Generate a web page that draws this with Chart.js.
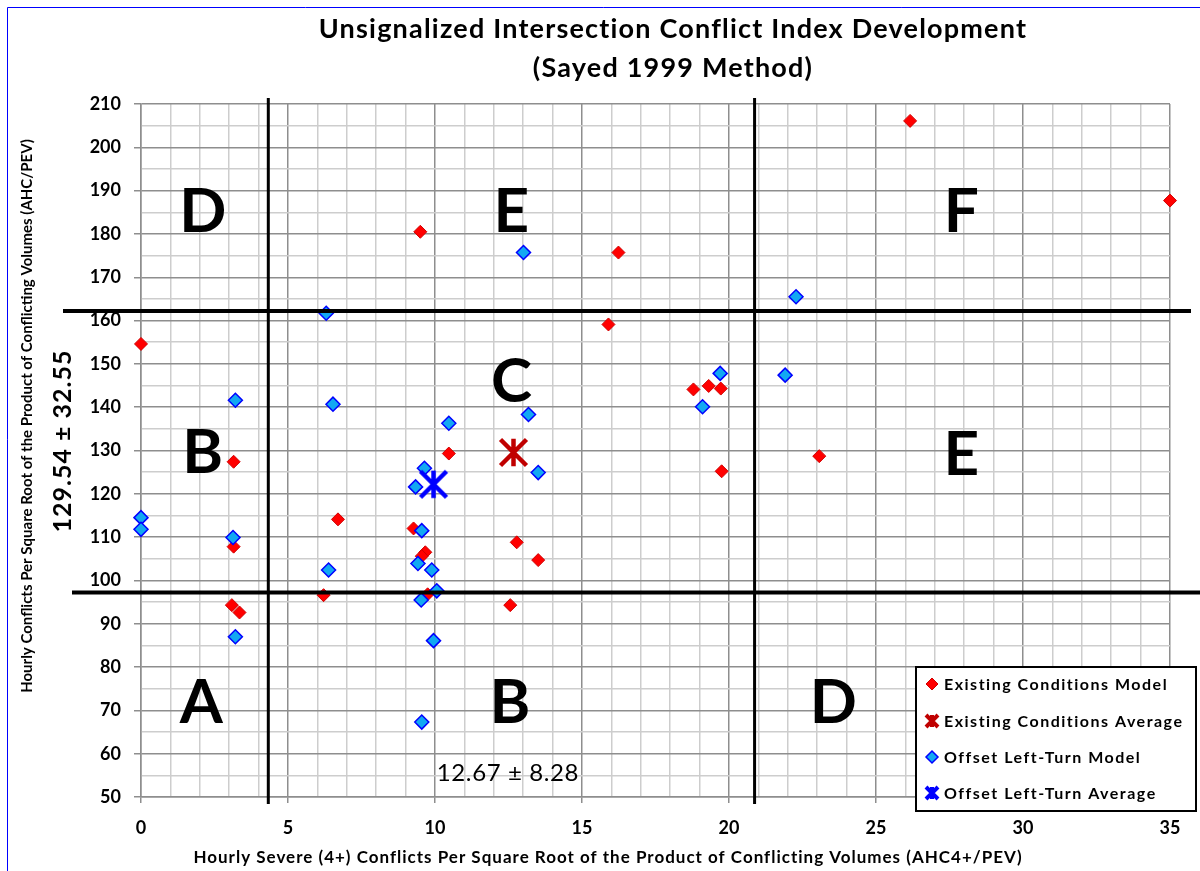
<!DOCTYPE html>
<html>
<head>
<meta charset="utf-8">
<title>Unsignalized Intersection Conflict Index Development</title>
<script src="https://cdn.jsdelivr.net/npm/chart.js@4.4.1/dist/chart.umd.min.js"></script>
<style>
  html, body { margin: 0; padding: 0; background: #fff; }
  #wrap { width: 1200px; height: 871px; }
</style>
</head>
<body>
<div id="wrap"><canvas id="chart" width="1200" height="871"></canvas></div>
<script>
// existing conditions model points
const existingX = [9.5, 0, 3.15, 10.47, 6.7, 3.15, 9.27, 9.67, 9.55, 6.21, 9.75, 3.09, 3.35,
  16.24, 15.9, 18.79, 19.31, 19.72, 19.75, 23.07, 12.78, 13.51, 12.56, 26.16, 35];
const existingY = [180.5, 154.6, 127.4, 129.3, 114.1, 107.8, 112.0, 106.5, 105.6, 96.6, 96.8, 94.3, 92.6,
  175.7, 159.1, 144.1, 144.9, 144.3, 125.2, 128.7, 108.8, 104.7, 94.3, 206.1, 187.7];

// offset left-turn model points
const offsetX = [6.3, 3.21, 6.53, 10.47, 9.64, 9.34, 0, 0, 3.13, 9.55, 9.42, 9.89, 6.38,
  10.06, 9.53, 3.21, 9.95, 9.55, 13.01, 22.28, 19.7, 21.91, 19.1, 13.18, 13.51];
const offsetY = [161.7, 141.6, 140.7, 136.3, 125.9, 121.6, 114.5, 111.8, 109.9, 111.5, 103.9, 102.4, 102.4,
  97.6, 95.5, 87.0, 86.1, 67.3, 175.7, 165.5, 147.8, 147.4, 140.1, 138.3, 124.9];

const existingAvg = [12.67, 129.54];
const offsetAvg = [9.95, 122.2];

const seriesNames = ['Existing Conditions Model', 'Existing Conditions Average',
  'Offset Left-Turn Model', 'Offset Left-Turn Average'];

// zone boundaries (mean +/- sd)
const zoneX = [4.33, 20.87];
const zoneY = [97.2, 162.2];
const xLabel = '12.67 \u00b1 8.28';
const yLabel = '129.54 \u00b1 32.55';
const zoneLetters = ['D', 'E', 'F', 'C', 'B', 'E', 'A', 'B', 'D'];

const xRange = [0, 35];
const yRange = [50, 210];

// where the zone letters sit (data coords)
const letterSpots = [[2.1, 185.5], [12.6, 185.5], [27.9, 185.5], [12.6, 146.3],
  [2.1, 129.8], [27.9, 129.5], [2.05, 72.2], [12.55, 72.2], [23.55, 72.2]];

const FONT = 'Lato, "Open Sans", sans-serif';
const MAJOR = '#8e8e8e';
const MINOR = '#cdcdcd';

function toPoints(xs, ys) {
    return xs.map((x, i) => ({ x: x, y: ys[i] }));
}

// excel style star marker: X plus a vertical bar
function makeStar(color, half, lw) {
    const c = document.createElement('canvas');
    const s = Math.ceil(half * 2 + lw * 2);
    c.width = s;
    c.height = s;
    const g = c.getContext('2d');
    const m = s / 2;
    g.strokeStyle = color;
    g.lineWidth = lw;
    g.beginPath();
    g.moveTo(m - half, m - half); g.lineTo(m + half, m + half);
    g.moveTo(m + half, m - half); g.lineTo(m - half, m + half);
    g.moveTo(m, m - half * 1.05); g.lineTo(m, m + half * 1.05);
    g.stroke();
    return c;
}

const redStar = makeStar('#c00000', 13, 4.5);
const blueStar = makeStar('#0000ff', 13, 4.5);

function drawDiamond(g, x, y, r, fill, stroke, lw) {
    g.beginPath();
    g.moveTo(x, y - r); g.lineTo(x + r, y); g.lineTo(x, y + r); g.lineTo(x - r, y);
    g.closePath();
    g.fillStyle = fill;
    g.fill();
    g.lineWidth = lw;
    g.strokeStyle = stroke;
    g.stroke();
}

function drawBowtie(g, x, y, color) {
    g.save();
    g.strokeStyle = color;
    g.lineWidth = 4;
    g.beginPath();
    g.moveTo(x - 6, y - 6); g.lineTo(x + 6, y + 6);
    g.moveTo(x + 6, y - 6); g.lineTo(x - 6, y + 6);
    g.moveTo(x, y - 6); g.lineTo(x, y + 6);
    g.stroke();
    g.restore();
}

function spacedText(g, text, x, y, spacing) {
    g.letterSpacing = spacing + 'px';
    g.fillText(text, x, y);
    g.letterSpacing = '0px';
}

const overlay = {
    id: 'overlay',
    afterDatasetsDraw(chart) {
        const g = chart.ctx;
        const a = chart.chartArea;
        const xs = chart.scales.x;
        const ys = chart.scales.y;
        g.save();

        // zone boundary lines
        g.strokeStyle = '#000';
        g.lineCap = 'butt';
        g.lineWidth = 3;
        zoneX.forEach(v => {
            const px = xs.getPixelForValue(v);
            g.beginPath();
            g.moveTo(px, a.top - 6);
            g.lineTo(px, a.bottom + 7);
            g.stroke();
        });
        g.lineWidth = 4;
        const hx = [[a.left - 78, a.right + 21], [a.left - 69, a.right + 30]];
        zoneY.slice().reverse().forEach((v, i) => {
            const py = ys.getPixelForValue(v);
            g.beginPath();
            g.moveTo(hx[i][0], py);
            g.lineTo(hx[i][1], py);
            g.stroke();
        });

        // zone letters
        g.fillStyle = '#000';
        g.textAlign = 'center';
        g.textBaseline = 'middle';
        g.font = 'bold 62px ' + FONT;
        zoneLetters.forEach((t, i) => {
            g.fillText(t, xs.getPixelForValue(letterSpots[i][0]), ys.getPixelForValue(letterSpots[i][1]) + 2);
        });

        // mean +/- sd labels
        g.font = '24px ' + FONT;
        spacedText(g, xLabel, xs.getPixelForValue(12.48), ys.getPixelForValue(55.5), 0.6);
        g.save();
        g.translate(63, ys.getPixelForValue(132.2));
        g.rotate(-Math.PI / 2);
        g.font = 'bold 25px ' + FONT;
        spacedText(g, yLabel, 0, 0, 1);
        g.restore();

        // titles
        g.font = 'bold 27px ' + FONT;
        spacedText(g, 'Unsignalized Intersection Conflict Index Development', 673, 29, 1.2);
        spacedText(g, '(Sayed 1999 Method)', 673, 68, 1.2);

        g.font = 'bold 17px ' + FONT;
        spacedText(g, 'Hourly Severe (4+) Conflicts Per Square Root of the Product of Conflicting Volumes (AHC4+/PEV)', 608, 858, 1);
        g.save();
        g.translate(27, 416);
        g.rotate(-Math.PI / 2);
        g.font = 'bold 15px ' + FONT;
        g.fillText('Hourly Conflicts Per Square Root of the Product of Conflicting Volumes (AHC/PEV)', 0, 0);
        g.restore();

        // legend
        g.fillStyle = '#fff';
        g.fillRect(916, 667, 280, 144);
        g.lineWidth = 2;
        g.strokeStyle = '#000';
        g.strokeRect(916, 667, 280, 144);
        const rows = [684, 721, 757, 793];
        drawDiamond(g, 932, rows[0], 6, '#ff0000', '#d00000', 1);
        drawBowtie(g, 932, rows[1], '#c00000');
        drawDiamond(g, 932, rows[2], 6, '#12a8f2', '#0000ff', 1.5);
        drawBowtie(g, 932, rows[3], '#0000ff');
        g.fillStyle = '#000';
        g.textAlign = 'left';
        g.font = 'bold 16px ' + FONT;
        seriesNames.forEach((n, i) => spacedText(g, n, 944, rows[i] + 1, 1.5));

        // outer frame
        g.lineWidth = 1;
        g.beginPath();
        g.moveTo(7.5, 871);
        g.lineTo(7.5, 7.5);
        g.lineTo(1200, 7.5);
        g.stroke();

        g.restore();
    }
};

const ctx = document.getElementById('chart');

new Chart(ctx, {
    type: 'scatter',
    data: {
        datasets: [
            {
                label: seriesNames[0],
                data: toPoints(existingX, existingY),
                pointStyle: 'rectRot',
                pointRadius: 6.5,
                backgroundColor: '#ff0000',
                borderColor: '#d00000',
                borderWidth: 1,
                clip: false,
                order: 4
            },
            {
                label: seriesNames[1],
                data: [{ x: existingAvg[0], y: existingAvg[1] }],
                pointStyle: redStar,
                clip: false,
                order: 2
            },
            {
                label: seriesNames[2],
                data: toPoints(offsetX, offsetY),
                pointStyle: 'rectRot',
                pointRadius: 7,
                backgroundColor: '#12a8f2',
                borderColor: '#0000ff',
                borderWidth: 1.5,
                clip: false,
                order: 3
            },
            {
                label: seriesNames[3],
                data: [{ x: offsetAvg[0], y: offsetAvg[1] }],
                pointStyle: blueStar,
                clip: false,
                order: 1
            }
        ]
    },
    options: {
        responsive: false,
        animation: false,
        devicePixelRatio: 1,
        events: [],
        layout: { padding: { top: 104, right: 30, left: 0, bottom: 0 } },
        plugins: {
            legend: { display: false },
            tooltip: { enabled: false }
        },
        scales: {
            x: {
                type: 'linear',
                min: xRange[0],
                max: xRange[1],
                afterFit: s => { s.height = 74; },
                ticks: {
                    stepSize: 1,
                    autoSkip: false,
                    maxRotation: 0,
                    padding: 14,
                    color: '#000',
                    font: { family: FONT, size: 18, weight: 'bold' },
                    callback: v => (v % 5 === 0 ? v : '')
                },
                grid: {
                    color: c => (c.tick && c.tick.value % 5 === 0 ? MAJOR : MINOR),
                    tickColor: c => (c.tick && c.tick.value % 5 === 0 ? MAJOR : 'rgba(0,0,0,0)'),
                    lineWidth: 1.5,
                    tickLength: 6
                },
                border: { color: MAJOR, width: 1.5 }
            },
            y: {
                type: 'linear',
                min: yRange[0],
                max: yRange[1],
                afterFit: s => { s.width = 141; },
                ticks: {
                    stepSize: 5,
                    autoSkip: false,
                    padding: 13,
                    color: '#000',
                    font: { family: FONT, size: 18, weight: 'bold' },
                    callback: v => (v % 10 === 0 ? v : '')
                },
                grid: {
                    color: c => (c.tick && c.tick.value % 10 === 0 ? MAJOR : MINOR),
                    tickColor: c => (c.tick && c.tick.value % 10 === 0 ? MAJOR : 'rgba(0,0,0,0)'),
                    lineWidth: 1.5,
                    tickLength: 7
                },
                border: { color: MAJOR, width: 1.5 }
            }
        }
    },
    plugins: [overlay]
});
</script>
</body>
</html>
